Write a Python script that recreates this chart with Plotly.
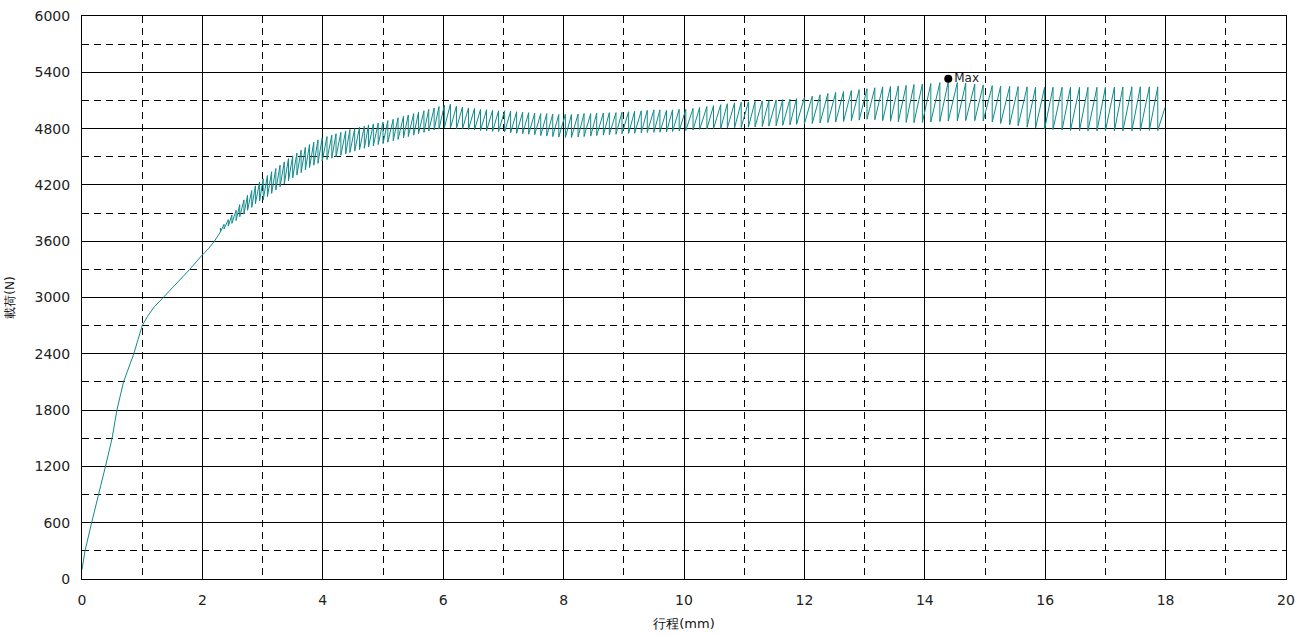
import plotly.graph_objects as go

# ---- data ----
# smooth (elastic / early plastic) part: stroke (mm) and load (N)
elastic_x = [0.0, 0.05, 0.16, 0.28, 0.39, 0.50, 0.58, 0.69, 0.78, 0.86, 0.93, 1.00,
             1.09, 1.20, 1.35, 1.50, 1.65, 1.79, 1.98, 2.10, 2.20, 2.30]
elastic_y = [100, 300, 600, 900, 1200, 1500, 1800, 2100, 2250, 2400, 2550, 2700,
             2800, 2900, 3000, 3100, 3200, 3300, 3440, 3520, 3600, 3700]

# serrated part: stroke of each tooth, load at the tooth top and right after the drop
serr_x = [2.30, 2.36, 2.43, 2.49, 2.56, 2.62, 2.69, 2.75, 2.82, 2.88, 2.95,
          3.01, 3.08, 3.15, 3.22, 3.29, 3.36, 3.43, 3.50, 3.57, 3.64, 3.71, 3.78, 3.85, 3.92,
          3.99, 4.07, 4.15, 4.22, 4.30, 4.38, 4.45, 4.53, 4.61, 4.69, 4.76, 4.84, 4.92,
          5.00, 5.08, 5.17, 5.25, 5.34, 5.42, 5.51, 5.59, 5.68, 5.76, 5.85, 5.93,
          6.02, 6.12, 6.22, 6.32, 6.42, 6.52, 6.62, 6.72, 6.82, 6.92,
          7.02, 7.12, 7.22, 7.32, 7.42, 7.52, 7.62, 7.72, 7.82, 7.92,
          8.03, 8.13, 8.24, 8.34, 8.45, 8.55, 8.66, 8.76, 8.87, 8.97,
          9.08, 9.18, 9.29, 9.39, 9.50, 9.60, 9.71, 9.81, 9.92,
          10.03, 10.15, 10.26, 10.38, 10.49, 10.61, 10.72, 10.84, 10.95, 11.07,
          11.18, 11.30, 11.41, 11.53, 11.64, 11.76, 11.87,
          12.00, 12.13, 12.26, 12.39, 12.52, 12.65, 12.78, 12.91, 13.04, 13.17,
          13.30, 13.43, 13.56, 13.69, 13.82,
          13.96, 14.10, 14.25, 14.39, 14.54, 14.68, 14.83, 14.97,
          15.12, 15.26, 15.41, 15.55, 15.70, 15.84, 15.99,
          16.13, 16.28, 16.42, 16.57, 16.71, 16.86,
          17.00, 17.15, 17.29, 17.44, 17.58, 17.73, 17.87]
serr_top = [3740, 3780, 3830, 3880, 3930, 3990, 4040, 4090, 4140, 4190, 4230,
            4265, 4300, 4340, 4375, 4410, 4445, 4480, 4510, 4540, 4570, 4600, 4630, 4655, 4680,
            4700, 4715, 4730, 4745, 4760, 4775, 4790, 4800, 4815, 4825, 4840, 4850, 4860,
            4870, 4885, 4900, 4915, 4930, 4945, 4960, 4975, 4990, 5005, 5020, 5035,
            5050, 5060, 5040, 5030, 5020, 5015, 5005, 5000, 4995, 4990,
            4990, 4985, 4980, 4975, 4970, 4965, 4960, 4960, 4955, 4950,
            4955, 4950, 4955, 4960, 4960, 4965, 4965, 4970, 4970, 4975,
            4980, 4985, 4990, 4995, 5000, 5000, 4995, 5000, 5005,
            5005, 5015, 5025, 5035, 5045, 5055, 5065, 5075, 5080, 5085,
            5090, 5095, 5100, 5105, 5110, 5115, 5120,
            5130, 5145, 5160, 5175, 5185, 5195, 5205, 5215, 5225, 5235,
            5245, 5250, 5255, 5260, 5270,
            5275, 5280, 5290, 5300, 5290, 5285, 5275, 5265,
            5258, 5252, 5250, 5248, 5245, 5242, 5240,
            5240, 5240, 5240, 5240, 5240, 5240,
            5240, 5242, 5243, 5245, 5245, 5245, 5245]
serr_bottom = [3700, 3730, 3760, 3790, 3820, 3860, 3890, 3930, 3960, 4000, 4030,
               4040, 4075, 4110, 4145, 4180, 4210, 4245, 4275, 4305, 4330, 4360, 4385, 4410, 4430,
               4455, 4470, 4485, 4500, 4515, 4530, 4545, 4560, 4575, 4590, 4605, 4615, 4630,
               4640, 4655, 4670, 4685, 4700, 4715, 4730, 4745, 4760, 4775, 4785, 4795,
               4810, 4805, 4800, 4795, 4790, 4785, 4780, 4775, 4770, 4768,
               4765, 4755, 4750, 4745, 4740, 4735, 4725, 4720, 4715, 4710,
               4705, 4705, 4710, 4715, 4720, 4725, 4730, 4735, 4740, 4745,
               4748, 4750, 4755, 4758, 4760, 4762, 4765, 4770, 4775,
               4780, 4785, 4790, 4795, 4800, 4802, 4805, 4808, 4812, 4815,
               4818, 4822, 4826, 4830, 4835, 4840, 4845,
               4850, 4855, 4860, 4865, 4870, 4875, 4885, 4890, 4900, 4895,
               4885, 4878, 4872, 4866, 4862,
               4865, 4870, 4875, 4880, 4882, 4885, 4885, 4880,
               4870, 4855, 4840, 4830, 4815, 4805, 4795,
               4790, 4785, 4780, 4778, 4776, 4775,
               4775, 4775, 4775, 4776, 4778, 4780, 4780]
end_x = [17.99]
end_y = [5025]

max_x = [14.39]
max_y = [5330]
max_label = ["Max"]

x_ticks = [0, 2, 4, 6, 8, 10, 12, 14, 16, 18, 20]
y_ticks = [0, 600, 1200, 1800, 2400, 3000, 3600, 4200, 4800, 5400, 6000]
x_title = "行程(mm)"
y_title = "載荷(N)"

assert len(serr_x) == len(serr_top) == len(serr_bottom)

# ---- assemble the trace (tooth top, then vertical drop) ----
curve_x = list(elastic_x)
curve_y = list(elastic_y)
for xv, top, bot in zip(serr_x, serr_top, serr_bottom):
    curve_x += [xv, xv]
    curve_y += [top, bot]
curve_x += end_x
curve_y += end_y

FONT = "DejaVu Sans"
fig = go.Figure()
fig.add_trace(go.Scatter(x=curve_x, y=curve_y, mode="lines",
                         line=dict(color="#118a8a", width=1), hoverinfo="skip",
                         showlegend=False))
fig.add_trace(go.Scatter(x=max_x, y=max_y, mode="markers+text", text=max_label,
                         textposition="middle right",
                         textfont=dict(family=FONT, size=12, color="#222"),
                         marker=dict(color="black", size=8), showlegend=False))

grid_common = dict(showline=True, mirror=True, linecolor="black", linewidth=1,
                   showgrid=True, gridcolor="black", gridwidth=1, zeroline=False,
                   automargin=False,
                   ticks="", tickfont=dict(family=FONT, size=14, color="#222"))

fig.update_xaxes(range=[0, 20], tickvals=x_ticks, ticktext=[str(v) for v in x_ticks],
                 minor=dict(dtick=1, tick0=0, showgrid=True, gridcolor="black",
                            griddash="7px,5px", gridwidth=1),
                 title=dict(text=x_title, font=dict(family=FONT, size=13, color="#111"),
                            standoff=12),
                 ticklabelstandoff=8, **grid_common)
fig.update_yaxes(range=[0, 6000], tickvals=y_ticks, ticktext=[str(v) for v in y_ticks],
                 minor=dict(dtick=600, tick0=300, showgrid=True, gridcolor="black",
                            griddash="7px,5px", gridwidth=1),
                 title=dict(text=y_title, font=dict(family=FONT, size=12, color="#111"),
                            standoff=17),
                 ticklabelstandoff=8, **grid_common)

fig.update_layout(width=1308, height=635, margin=dict(l=82, r=22, t=16, b=56),
                  plot_bgcolor="white", paper_bgcolor="white",
                  font=dict(family=FONT))
fig.write_html("out.html", config={"displayModeBar": False})

# remove the browser's default page margin so the figure sits at the window origin
with open("out.html", encoding="utf-8") as fh:
    html = fh.read()
html = html.replace("<head>", "<head><style>html,body{margin:0;padding:0;overflow:hidden;}</style>", 1)
with open("out.html", "w", encoding="utf-8") as fh:
    fh.write(html)
